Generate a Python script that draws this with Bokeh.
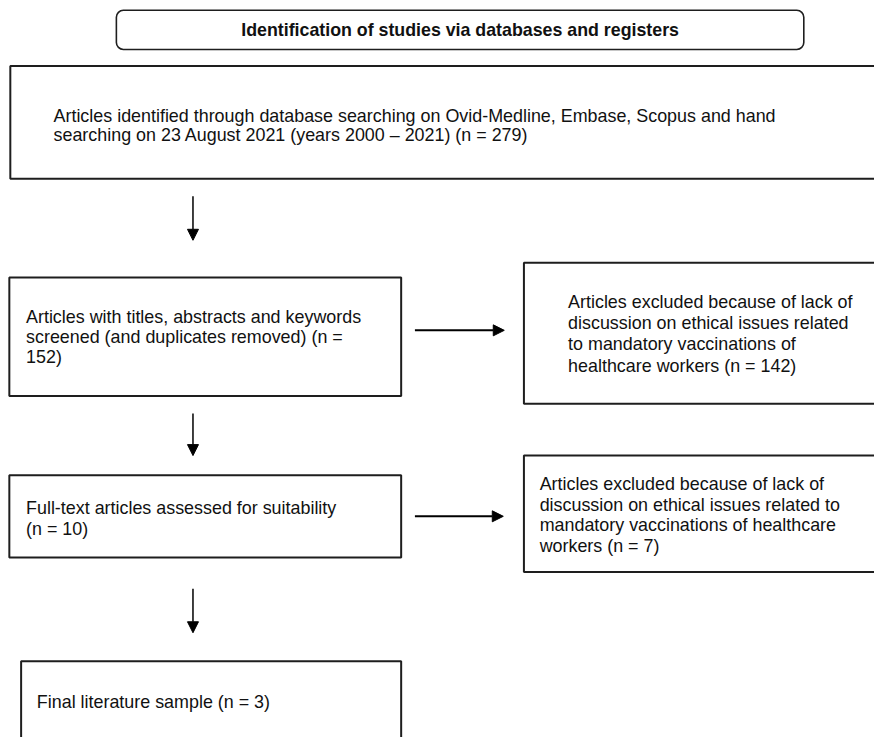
from bokeh.plotting import figure
from bokeh.models import Range1d, Arrow, NormalHead
from bokeh.embed import file_html
from bokeh.resources import INLINE
from bokeh.core.properties import value

# ---- content ----
title_text = "Identification of studies via databases and registers"
step_texts = [
    ["Articles identified through database searching on Ovid-Medline, Embase, Scopus and hand",
     "searching on 23 August 2021 (years 2000 \u2013 2021) (n = 279)"],
    ["Articles with titles, abstracts and keywords",
     "screened (and duplicates removed) (n =",
     "152)"],
    ["Full-text articles assessed for suitability",
     "(n = 10)"],
    ["Final literature sample (n = 3)"],
]
excl_texts = [
    ["Articles excluded because of lack of",
     "discussion on ethical issues related",
     "to mandatory vaccinations of",
     "healthcare workers (n = 142)"],
    ["Articles excluded because of lack of",
     "discussion on ethical issues related to",
     "mandatory vaccinations of healthcare",
     "workers (n = 7)"],
]
counts = [279, 152, 10, 3]
excluded = [142, 7]

# ---- layout (reference pixel coordinates) ----
step_boxes = [(10, 900, 67, 182), (9, 408, 283, 404), (9, 408, 485, 569), (21, 408, 675, 770)]
step_text_x = [54, 26, 26, 37]
step_text_y0 = [118, 323, 519, 717]
step_line_h = [19, 20.5, 21, 21]
excl_boxes = [(533, 900, 268, 412), (533, 900, 465, 584)]
excl_text_x = [578, 549]
excl_text_y0 = [308, 494]
excl_line_h = [21.7, 21]
v_arrows = [(196, 200, 245), (196, 422, 465), (196, 601, 646)]
h_arrows = [(337, 422, 513), (527, 422, 512)]

W, H = 874, 737
p = figure(width=W, height=H, output_backend="svg", toolbar_location=None,
           x_range=Range1d(0, 890), y_range=Range1d(753, 0),
           min_border=0)
p.axis.visible = False
p.grid.visible = False
p.outline_line_color = None
p.background_fill_color = "white"

border = "#1e1e1e"
font = value("Liberation Sans")

# title rounded box
p.quad(left=[118], right=[818], top=[10], bottom=[50], fill_color=None,
       line_color=border, line_width=1.6, border_radius=7)
p.text(x=[468], y=[30], text=[title_text], text_font=font, text_font_size="17.8px",
       text_font_style="bold", text_align="center", text_baseline="middle", text_color="#111111")

boxes = step_boxes + excl_boxes
p.quad(left=[b[0] for b in boxes], right=[b[1] for b in boxes],
       top=[b[2] for b in boxes], bottom=[b[3] for b in boxes],
       fill_color=None, line_color=border, line_width=2)

xs, ys, ts = [], [], []
for lines, x0, y0, lh in zip(step_texts + excl_texts, step_text_x + excl_text_x,
                             step_text_y0 + excl_text_y0, step_line_h + excl_line_h):
    for i, t in enumerate(lines):
        xs.append(x0); ys.append(y0 + i * lh); ts.append(t)
p.text(x=xs, y=ys, text=ts, text_font=font, text_font_size="17.9px",
       text_align="left", text_baseline="middle", text_color="#111111")

for x, y1, y2 in v_arrows:
    p.add_layout(Arrow(end=NormalHead(size=11, fill_color="black", line_color="black"),
                       x_start=x, y_start=y1, x_end=x, y_end=y2,
                       line_color="black", line_width=1.5))
for y, x1, x2 in h_arrows:
    p.add_layout(Arrow(end=NormalHead(size=11, fill_color="black", line_color="black"),
                       x_start=x1, y_start=y, x_end=x2, y_end=y,
                       line_color="black", line_width=2))

open("out.html", "w").write(file_html(p, INLINE))
